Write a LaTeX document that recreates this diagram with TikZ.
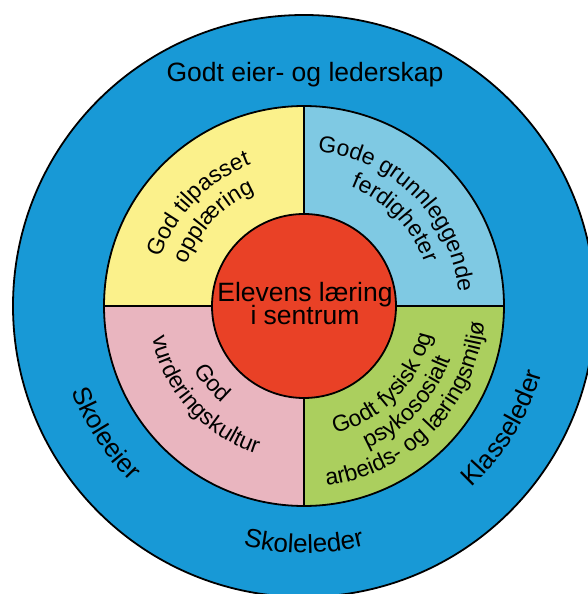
\documentclass[tikz,border=0pt]{standalone}
\usepackage{fontspec}
\newfontfamily\af{Liberation Sans}
\usetikzlibrary{decorations.text}
\definecolor{outerblue}{RGB}{24,153,214}
\definecolor{qyellow}{RGB}{251,241,139}
\definecolor{qblue}{RGB}{127,201,227}
\definecolor{qpink}{RGB}{233,181,191}
\definecolor{qgreen}{RGB}{171,207,94}
\definecolor{cred}{RGB}{233,65,38}
\tikzset{
  ring/.style={line width=1.8pt, draw=black},
  bigtext/.style={font=\af\fontsize{26.5}{26.5}\selectfont, inner sep=0pt},
  arctext/.style 2 args={decorate, decoration={text along path, text align=center,
      text={|\af\fontsize{#1}{#1}\selectfont|#2}}},
}
% clockwise arc text (letters' tops outward): size, radius, centre angle, text
\newcommand\cwtext[4]{\path[arctext={#1}{#4}] ({#3+70}:#2pt) arc[start angle={#3+70}, end angle={#3-70}, radius=#2pt];}
% counter-clockwise arc text (letters' tops inward)
\newcommand\ccwtext[4]{\path[arctext={#1}{#4}] ({#3-70}:#2pt) arc[start angle={#3-70}, end angle={#3+70}, radius=#2pt];}
\begin{document}
\begin{tikzpicture}[x=1pt,y=1pt]
\useasboundingbox (-304,-288) rectangle (283,306);
% outer ring
\node[circle, ring, fill=outerblue, minimum size=582pt, inner sep=0pt] (outer) at (0,0) {};
% quadrants
\fill[qyellow] (0,0) -- (90:200pt) arc[start angle=90, end angle=180, radius=200pt] -- cycle;
\fill[qblue] (0,0) -- (0:200pt) arc[start angle=0, end angle=90, radius=200pt] -- cycle;
\fill[qpink] (0,0) -- (180:200pt) arc[start angle=180, end angle=270, radius=200pt] -- cycle;
\fill[qgreen] (0,0) -- (270:200pt) arc[start angle=270, end angle=360, radius=200pt] -- cycle;
\node[circle, ring, minimum size=400pt, inner sep=0pt] (mid) at (0,0) {};
\draw[line width=1.8pt] (mid.north) -- (mid.south);
\draw[line width=1.8pt] (mid.west) -- (mid.east);
% centre
\node[circle, ring, fill=cred, minimum size=184pt, inner sep=0pt] (centre) at (0,0) {};
\node[bigtext, anchor=base] (c1) at (1,4) {Elevens læring};
\node[bigtext, anchor=base] (c2) at (1,-19) {i sentrum};
% outer texts
\node[bigtext, anchor=base] (top) at (1,224) {Godt eier- og lederskap};
\ccwtext{26}{247}{212.7}{Skoleeier}
\ccwtext{26}{247}{270}{Skoleleder}
\ccwtext{26}{247}{-31.5}{Klasseleder}
% yellow
\cwtext{23}{151}{136}{God tilpasset}
\cwtext{23}{124}{137}{opplæring}
% light blue
\cwtext{23}{155}{45}{Gode grunnleggende}
\cwtext{23}{128}{44}{ferdigheter}
% pink
\ccwtext{23}{127}{220}{God}
\ccwtext{23}{155}{222}{vurderingskultur}
% green
\ccwtext{23}{131}{-44.5}{Godt fysisk og}
\ccwtext{23}{156}{-43}{psykososialt}
\ccwtext{23}{181}{-44}{arbeids- og læringsmiljø}
\end{tikzpicture}
\end{document}
